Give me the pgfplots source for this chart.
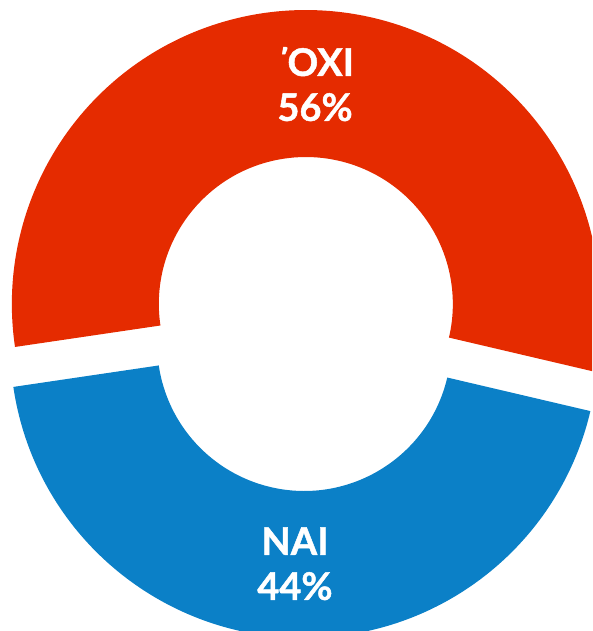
\documentclass[border=0pt]{standalone}
\usepackage{fontspec}
\setmainfont{Lato}[BoldFeatures={FakeBold=1.2}]
\usepackage{pgfplots}
\usepackage{pgfplotstable}
\pgfplotsset{compat=1.18}
\usetikzlibrary{calc}
\definecolor{oxired}{HTML}{E52B00}
\definecolor{naiblue}{HTML}{0B80C7}
\pgfplotstableread{
label value
ΌΧΙ 56
ΝΑΙ 44
}\votes
\begin{document}
\begin{tikzpicture}
\pgfplotstablegetelem{0}{value}\of\votes \let\vA\pgfplotsretval
\pgfplotstablegetelem{1}{value}\of\votes \let\vB\pgfplotsretval
\pgfmathsetmacro\sA{-13.2}
\pgfmathsetmacro\eA{\sA+3.6*\vA}
\pgfmathsetmacro\eB{\eA+3.6*\vB}
\pgfmathsetmacro\mA{(\sA+\eA)/2}
\pgfmathsetmacro\mB{(\eA+\eB)/2}
\begin{axis}[width=592pt,height=631pt,scale only axis,
  xmin=0,xmax=592,ymin=0,ymax=631,hide axis,clip=true]
\coordinate (C) at (axis cs:305,307);
\coordinate (CA) at ($(C)+(\mA:20pt)$);
\coordinate (CB) at ($(C)+(\mB:20pt)$);
\fill[oxired] ($(CA)+(\sA:294pt)$) arc[start angle=\sA,end angle=\eA,radius=294pt]
  -- ($(CA)+(\eA:147pt)$) arc[start angle=\eA,end angle=\sA,radius=147pt] -- cycle;
\fill[naiblue] ($(CB)+(\eA:294pt)$) arc[start angle=\eA,end angle=\eB,radius=294pt]
  -- ($(CB)+(\eB:147pt)$) arc[start angle=\eB,end angle=\eA,radius=147pt] -- cycle;
\node[text=white,font=\fontsize{38}{45}\selectfont,align=center]
  at ($(CA)+(\mA:220pt)$) {\textbf{\char"0384\kern-0.1em ΟΧΙ}\\\textbf{\vA\%}};
\node[text=white,font=\fontsize{38}{45}\selectfont,align=center]
  at ($(CB)+(\mB:220pt)$) {\textbf{ΝΑΙ}\\\textbf{\vB\%}};
\end{axis}
\pgfresetboundingbox
\path (current axis.south west) rectangle (current axis.north east);
\end{tikzpicture}
\end{document}
